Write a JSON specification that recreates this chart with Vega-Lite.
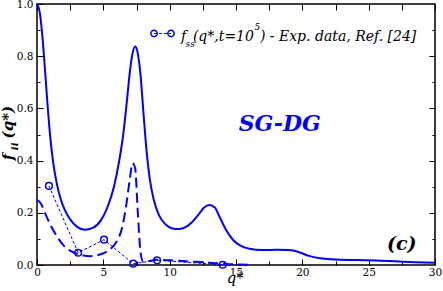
{
  "$schema": "https://vega.github.io/schema/vega-lite/v6.json",
  "width": 398,
  "height": 261,
  "autosize": "none",
  "padding": {"left": 37, "top": 4, "right": 8, "bottom": 26},
  "background": "white",
  "config": {
    "font": "DejaVu Serif",
    "view": {"stroke": "black", "strokeWidth": 1.5},
    "axis": {"grid": false, "domain": false, "labelFont": "DejaVu Serif", "labelFontSize": 10.5, "labelColor": "black", "tickColor": "black", "tickWidth": 1, "title": null, "labelFlush": false, "labelOverlap": false}
  },
  "datasets": {
    "solid": [
      {"q": 0, "f": 1.0}, {"q": 0.2, "f": 0.97}, {"q": 0.4, "f": 0.88}, {"q": 0.6, "f": 0.75}, {"q": 0.8, "f": 0.61},
      {"q": 1.0, "f": 0.49}, {"q": 1.2, "f": 0.4}, {"q": 1.5, "f": 0.31}, {"q": 1.8, "f": 0.25}, {"q": 2.1, "f": 0.21},
      {"q": 2.5, "f": 0.175}, {"q": 3.0, "f": 0.147}, {"q": 3.6, "f": 0.135}, {"q": 4.2, "f": 0.142}, {"q": 4.8, "f": 0.17},
      {"q": 5.3, "f": 0.22}, {"q": 5.8, "f": 0.3}, {"q": 6.2, "f": 0.4}, {"q": 6.5, "f": 0.5}, {"q": 6.8, "f": 0.64},
      {"q": 7.0, "f": 0.74}, {"q": 7.2, "f": 0.81}, {"q": 7.4, "f": 0.837}, {"q": 7.6, "f": 0.81}, {"q": 7.8, "f": 0.73},
      {"q": 8.0, "f": 0.6}, {"q": 8.2, "f": 0.47}, {"q": 8.5, "f": 0.33}, {"q": 8.8, "f": 0.25}, {"q": 9.2, "f": 0.19},
      {"q": 9.7, "f": 0.155}, {"q": 10.2, "f": 0.14}, {"q": 10.7, "f": 0.138}, {"q": 11.2, "f": 0.145}, {"q": 11.7, "f": 0.165},
      {"q": 12.2, "f": 0.195}, {"q": 12.6, "f": 0.22}, {"q": 13.0, "f": 0.23}, {"q": 13.4, "f": 0.22}, {"q": 13.8, "f": 0.18},
      {"q": 14.3, "f": 0.13}, {"q": 14.8, "f": 0.095}, {"q": 15.3, "f": 0.075}, {"q": 16.0, "f": 0.062}, {"q": 17.0, "f": 0.057},
      {"q": 18.0, "f": 0.058}, {"q": 19.0, "f": 0.057}, {"q": 19.7, "f": 0.05}, {"q": 20.5, "f": 0.035}, {"q": 21.5, "f": 0.025},
      {"q": 22.5, "f": 0.021}, {"q": 24.0, "f": 0.019}, {"q": 25.5, "f": 0.017}, {"q": 27.0, "f": 0.014}, {"q": 28.5, "f": 0.011},
      {"q": 30.0, "f": 0.009}
    ],
    "dashed": [
      {"q": 0, "f": 0.25}, {"q": 0.3, "f": 0.235}, {"q": 0.6, "f": 0.2}, {"q": 1.0, "f": 0.155}, {"q": 1.5, "f": 0.11},
      {"q": 2.0, "f": 0.075}, {"q": 2.5, "f": 0.055}, {"q": 3.0, "f": 0.043}, {"q": 3.5, "f": 0.036}, {"q": 4.0, "f": 0.034},
      {"q": 4.5, "f": 0.037}, {"q": 5.0, "f": 0.045}, {"q": 5.5, "f": 0.06}, {"q": 6.0, "f": 0.09}, {"q": 6.4, "f": 0.14},
      {"q": 6.7, "f": 0.22}, {"q": 7.0, "f": 0.33}, {"q": 7.2, "f": 0.39}, {"q": 7.4, "f": 0.37}, {"q": 7.6, "f": 0.2},
      {"q": 7.8, "f": 0.05}, {"q": 8.0, "f": 0.012}, {"q": 8.5, "f": 0.015}, {"q": 9.0, "f": 0.02}, {"q": 10.0, "f": 0.018},
      {"q": 11.0, "f": 0.015}, {"q": 12.0, "f": 0.012}, {"q": 13.0, "f": 0.009}, {"q": 14.0, "f": 0.005}, {"q": 15.0, "f": 0.002},
      {"q": 16.0, "f": 0.001}
    ],
    "exp": [
      {"q": 0.9, "f": 0.303}, {"q": 3.1, "f": 0.047}, {"q": 5.05, "f": 0.097}, {"q": 7.25, "f": 0.005}, {"q": 9.05, "f": 0.018}, {"q": 14.0, "f": 0.001}
    ],
    "legsym": [{"q": 8.82, "f": 0.887}, {"q": 10.1, "f": 0.887}]
  },
  "resolve": {"axis": {"x": "independent", "y": "independent"}},
  "layer": [
    {
      "data": {"name": "solid"},
      "mark": {"type": "line", "color": "#0000ff", "strokeWidth": 2, "interpolate": "monotone"},
      "encoding": {
        "x": {"field": "q", "type": "quantitative", "scale": {"domain": [0, 30], "nice": false, "zero": false},
              "axis": {"orient": "bottom", "values": [0, 5, 10, 15, 20, 25, 30], "tickSize": -6, "labelPadding": 8}},
        "y": {"field": "f", "type": "quantitative", "scale": {"domain": [0, 1], "nice": false},
              "axis": {"orient": "left", "values": [0, 0.2, 0.4, 0.6, 0.8, 1], "tickSize": -6, "labelPadding": 10}}
      }
    },
    {
      "data": {"name": "dashed"},
      "mark": {"type": "line", "color": "#0000ff", "strokeWidth": 2, "strokeDash": [10, 5], "interpolate": "monotone"},
      "encoding": {
        "x": {"field": "q", "type": "quantitative", "axis": {"orient": "bottom", "values": [2.5, 7.5, 12.5, 17.5, 22.5, 27.5], "tickSize": -4, "labels": false}},
        "y": {"field": "f", "type": "quantitative", "axis": {"orient": "left", "values": [0.1, 0.3, 0.5, 0.7, 0.9], "tickSize": -3, "labels": false}}
      }
    },
    {
      "data": {"name": "exp"},
      "mark": {"type": "line", "color": "#0000ff", "strokeWidth": 1, "strokeDash": [3, 2]},
      "encoding": {
        "x": {"field": "q", "type": "quantitative", "axis": {"orient": "top", "values": [0, 2.5, 5, 7.5, 10, 12.5, 15, 17.5, 20, 22.5, 25, 27.5, 30], "tickSize": -6, "labels": false}},
        "y": {"field": "f", "type": "quantitative", "axis": {"orient": "right", "values": [0.2, 0.4, 0.6, 0.8], "tickSize": -6, "labels": false}}
      }
    },
    {
      "data": {"name": "exp"},
      "mark": {"type": "point", "shape": "circle", "filled": false, "color": "#0000ff", "size": 45, "strokeWidth": 1.5, "opacity": 1},
      "encoding": {
        "x": {"field": "q", "type": "quantitative", "axis": null},
        "y": {"field": "f", "type": "quantitative", "axis": {"orient": "right", "values": [0.1, 0.3, 0.5, 0.7, 0.9], "tickSize": -3, "labels": false}}
      }
    },
    {
      "data": {"name": "legsym"},
      "mark": {"type": "line", "color": "#0000ff", "strokeWidth": 1, "strokeDash": [3, 2]},
      "encoding": {
        "x": {"field": "q", "type": "quantitative", "axis": null},
        "y": {"field": "f", "type": "quantitative", "axis": null}
      }
    },
    {
      "data": {"name": "legsym"},
      "mark": {"type": "point", "shape": "circle", "filled": false, "color": "#0000ff", "size": 40, "strokeWidth": 1.5, "opacity": 1},
      "encoding": {
        "x": {"field": "q", "type": "quantitative", "axis": null},
        "y": {"field": "f", "type": "quantitative", "axis": null}
      }
    },
    {
      "data": {"values": [
        {"q": 10.85, "f": 0.86, "t": "f", "s": 14},
        {"q": 11.2, "f": 0.834, "t": "ss", "s": 9},
        {"q": 11.75, "f": 0.86, "t": "(q*,t=10", "s": 14},
        {"q": 16.4, "f": 0.902, "t": "5", "s": 9},
        {"q": 16.8, "f": 0.86, "t": ") - Exp. data, Ref. [24]", "s": 14}
      ]},
      "mark": {"type": "text", "font": "DejaVu Serif", "fontStyle": "italic", "align": "left", "baseline": "alphabetic", "color": "black"},
      "encoding": {
        "x": {"field": "q", "type": "quantitative", "axis": null},
        "y": {"field": "f", "type": "quantitative", "axis": null},
        "text": {"field": "t"},
        "size": {"field": "s", "type": "quantitative", "scale": null, "legend": null}
      }
    },
    {
      "data": {"values": [{"q": 18.3, "f": 0.512, "t": "SG-DG"}]},
      "mark": {"type": "text", "font": "DejaVu Serif", "fontStyle": "italic", "fontWeight": "bold", "fontSize": 22, "align": "center", "baseline": "alphabetic", "color": "#0000ff"},
      "encoding": {
        "x": {"field": "q", "type": "quantitative", "axis": null},
        "y": {"field": "f", "type": "quantitative", "axis": null},
        "text": {"field": "t"}
      }
    },
    {
      "data": {"values": [{"q": 27.5, "f": 0.057, "t": "(c)"}]},
      "mark": {"type": "text", "font": "DejaVu Serif", "fontStyle": "italic", "fontWeight": "bold", "fontSize": 19, "align": "center", "baseline": "alphabetic", "color": "black"},
      "encoding": {
        "x": {"field": "q", "type": "quantitative", "axis": null},
        "y": {"field": "f", "type": "quantitative", "axis": null},
        "text": {"field": "t"}
      }
    },
    {
      "data": {"values": [{"q": 14.3, "f": -0.069, "t": "q*"}]},
      "mark": {"type": "text", "font": "DejaVu Serif", "fontStyle": "italic", "fontSize": 15, "align": "left", "baseline": "alphabetic", "color": "black"},
      "encoding": {
        "x": {"field": "q", "type": "quantitative", "axis": null},
        "y": {"field": "f", "type": "quantitative", "axis": null},
        "text": {"field": "t"}
      }
    },
    {
      "data": {"values": [
        {"q": -1.82, "f": 0.401, "t": "f", "s": 15},
        {"q": -1.42, "f": 0.44, "t": "ii", "s": 10},
        {"q": -1.82, "f": 0.485, "t": "(q*)", "s": 15}
      ]},
      "mark": {"type": "text", "font": "DejaVu Serif", "fontStyle": "italic", "fontWeight": "bold", "angle": 270, "align": "left", "baseline": "alphabetic", "color": "black"},
      "encoding": {
        "x": {"field": "q", "type": "quantitative", "axis": null},
        "y": {"field": "f", "type": "quantitative", "axis": null},
        "text": {"field": "t"},
        "size": {"field": "s", "type": "quantitative", "scale": null, "legend": null}
      }
    }
  ]
}
